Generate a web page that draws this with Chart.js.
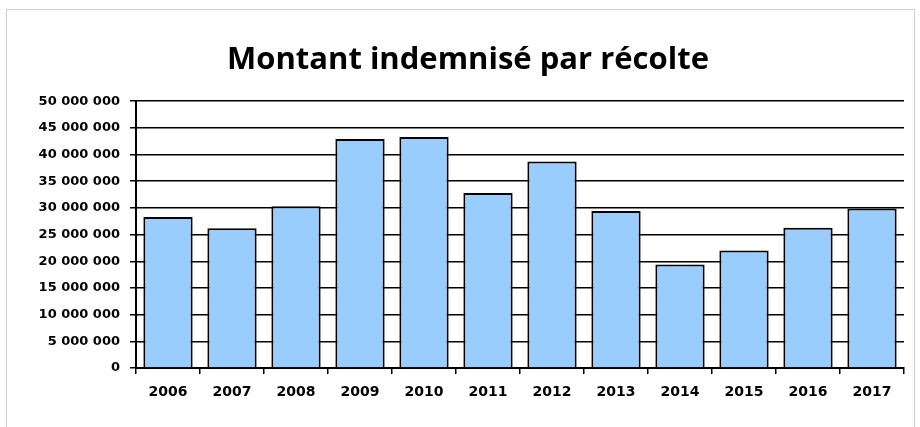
<!DOCTYPE html>
<html>
<head>
<meta charset="utf-8">
<script src="https://cdn.jsdelivr.net/npm/chart.js@4.4.1/dist/chart.umd.min.js"></script>
<style>
  html, body { margin: 0; padding: 0; background: #fff; }
  #wrap { position: relative; width: 920px; height: 427px; }
  #frame { position: absolute; left: 6px; top: 9px; width: 907px; height: 430px; border: 1px solid #d0d0d0; pointer-events: none; }
</style>
</head>
<body>
<div id="wrap">
  <canvas id="myChart" width="920" height="427"></canvas>
  <div id="frame"></div>
</div>
<script>
'use strict';
// years on the x axis
let years = ['2006', '2007', '2008', '2009', '2010', '2011', '2012', '2013', '2014', '2015', '2016', '2017'];
// amounts paid per harvest
let amounts = [28300000, 26200000, 30300000, 42900000, 43300000, 32800000, 38700000, 29400000, 19400000, 22000000, 26300000, 29900000];
let yTicks = [0, 5000000, 10000000, 15000000, 20000000, 25000000, 30000000, 35000000, 40000000, 45000000, 50000000];
let chartTitle = 'Montant indemnisé par récolte';

function spaced(v) {
  return String(v).replace(/\B(?=(\d{3})+(?!\d))/g, ' ');
}

let ctx = document.getElementById('myChart').getContext('2d');
let myChart = new Chart(ctx, {
  type: 'bar',
  data: {
    labels: years,
    datasets: [{
      data: amounts,
      backgroundColor: '#99ccff',
      borderColor: '#000',
      borderWidth: 2,
      borderSkipped: 'bottom',
      barPercentage: 0.77,
      categoryPercentage: 1
    }]
  },
  options: {
    responsive: false,
    animation: false,
    // left padding is wider so the title sits centred like the original
    layout: { padding: { left: 32, right: 16, top: 0, bottom: 0 } },
    plugins: {
      legend: { display: false },
      tooltip: { enabled: false },
      title: {
        display: true,
        text: chartTitle,
        color: '#000',
        font: { family: 'Open Sans', size: 31, weight: 'bold' },
        padding: { top: 42, bottom: 22 }
      }
    },
    scales: {
      x: {
        grid: { display: true, drawOnChartArea: false, offset: true, color: '#000', lineWidth: 1.5, tickLength: 6 },
        border: { color: '#000', width: 2 },
        ticks: { color: '#000', padding: 10, font: { family: 'DejaVu Sans', size: 14, weight: 'bold' } },
        afterFit: function (scale) { scale.height = 59; }
      },
      y: {
        min: 0,
        max: 50000000,
        afterBuildTicks: function (scale) { scale.ticks = yTicks.map(v => ({ value: v })); },
        grid: { color: '#000', lineWidth: 1.5, tickLength: 6 },
        border: { color: '#000', width: 2 },
        ticks: {
          color: '#000',
          padding: 10,
          font: { family: 'DejaVu Sans', size: 13, weight: 'bold' },
          callback: function (v) { return spaced(v); }
        },
        afterFit: function (scale) { scale.width = 104; }
      }
    }
  }
});
</script>
</body>
</html>
